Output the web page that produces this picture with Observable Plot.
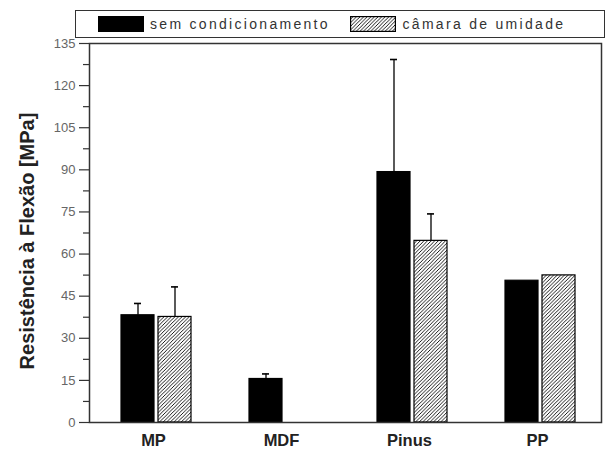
<!DOCTYPE html>
<html><head><meta charset="utf-8">
<script src="https://cdn.jsdelivr.net/npm/d3@7"></script>
<script src="https://cdn.jsdelivr.net/npm/@observablehq/plot@0.6"></script>
<style>
body{margin:0;background:#fff;font-family:"Liberation Sans",Arial,sans-serif;}
#wrap{position:relative;width:609px;height:450px;overflow:hidden;}
#legend{position:absolute;left:75px;top:10px;width:528px;height:26px;border:1.5px solid #333;background:#fff;}
.sw{position:absolute;top:4.5px;width:46px;height:16px;box-sizing:border-box;}
.lt{position:absolute;top:4px;font-size:14px;letter-spacing:2.3px;color:#333;line-height:18px;white-space:nowrap;}
</style></head>
<body>
<svg width="0" height="0" style="position:absolute">
  <defs>
    <pattern id="hatch" patternUnits="userSpaceOnUse" width="3.6" height="3.6">
      <rect width="3.6" height="3.6" fill="#fff"/>
      <path d="M-0.9,0.9 L0.9,-0.9 M0,3.6 L3.6,0 M2.7,4.5 L4.5,2.7" stroke="#000" stroke-width="0.9"/>
    </pattern>
  </defs>
</svg>
<div id="wrap">
  <div id="chart"></div>
  <div id="legend"></div>
</div>
<script>
const categories = ["MP", "MDF", "Pinus", "PP"];
const seriesNames = ["sem condicionamento", "câmara de umidade"];
const semValues = [38.2, 15.5, 89.2, 50.5];
const semErrors = [4.2, 1.8, 40.1, null];
const camValues = [37.6, null, 64.7, 52.4];
const camErrors = [10.7, null, 9.6, null];
const yTicks = [0, 15, 30, 45, 60, 75, 90, 105, 120, 135];
const yMinorTicks = [7.5, 22.5, 37.5, 52.5, 67.5, 82.5, 97.5, 112.5, 127.5];
const yLabel = "Resistência à Flexão [MPa]";

const fills = {"sem condicionamento": "#000", "câmara de umidade": "url(#hatch)"};

const rows = [];
categories.forEach((c, i) => {
  if (semValues[i] != null) rows.push({cat: c, series: seriesNames[0], value: semValues[i], err: semErrors[i]});
  if (camValues[i] != null) rows.push({cat: c, series: seriesNames[1], value: camValues[i], err: camErrors[i]});
});
const errRows = rows.filter(d => d.err != null);

const chart = Plot.plot({
  width: 609,
  height: 450,
  marginLeft: 87,
  marginRight: 7,
  marginTop: 43,
  marginBottom: 28,
  style: {fontFamily: "'Liberation Sans', Arial, sans-serif", background: "#fff"},
  fx: {domain: categories, padding: 0, label: null},
  x: {domain: seriesNames, paddingInner: 0.1, paddingOuter: 0.75, align: 0.55, axis: null},
  y: {domain: [0, 135], label: null},
  marks: [
    Plot.barY(rows, {fx: "cat", x: "series", y: "value", fill: d => fills[d.series], stroke: "#000", strokeWidth: 1.2}),
    Plot.ruleX(errRows, {fx: "cat", x: "series", y1: "value", y2: d => d.value + d.err, stroke: "#000", strokeWidth: 1.3}),
    Plot.tickY(errRows, {fx: "cat", x: "series", y: d => d.value + d.err, stroke: "#000", strokeWidth: 1.6, insetLeft: 13, insetRight: 13}),
    Plot.axisY({ticks: yTicks, tickSize: 10, tickPadding: 4, fontSize: 13, fill: "#666", stroke: "#333", strokeWidth: 1.2, label: null}),
    Plot.axisY({ticks: yMinorTicks, tickSize: 6, text: null, stroke: "#333", strokeWidth: 1.2, label: null}),
    Plot.axisFx({anchor: "bottom", tickSize: 0, tickPadding: 12, fontSize: 16.5, fontWeight: "bold", fill: "#222", label: null}),
    Plot.frame({facet: "super", stroke: "#333", strokeWidth: 1.5}),
    Plot.text([yLabel], {facet: "super", frameAnchor: "left", text: d => d, rotate: -90, textAnchor: "middle", lineAnchor: "middle", dx: -62, dy: 8, fontSize: 20, fontWeight: "bold", fill: "#222"})
  ]
});
document.getElementById("chart").appendChild(chart);

// legend
const legend = document.getElementById("legend");
const items = [
  {name: seriesNames[0], sw: 21.5, tx: 74},
  {name: seriesNames[1], sw: 273.5, tx: 326.5}
];
items.forEach(it => {
  const sw = document.createElementNS("http://www.w3.org/2000/svg", "svg");
  sw.setAttribute("class", "sw");
  sw.style.left = it.sw + "px";
  sw.setAttribute("width", 46);
  sw.setAttribute("height", 16);
  const r = document.createElementNS("http://www.w3.org/2000/svg", "rect");
  r.setAttribute("x", 0.6); r.setAttribute("y", 0.6);
  r.setAttribute("width", 44.8); r.setAttribute("height", 14.8);
  r.setAttribute("fill", fills[it.name]);
  r.setAttribute("stroke", "#000"); r.setAttribute("stroke-width", 1.2);
  sw.appendChild(r);
  legend.appendChild(sw);
  const t = document.createElement("div");
  t.className = "lt";
  t.style.left = it.tx + "px";
  t.textContent = it.name;
  legend.appendChild(t);
});
</script>
</body></html>
